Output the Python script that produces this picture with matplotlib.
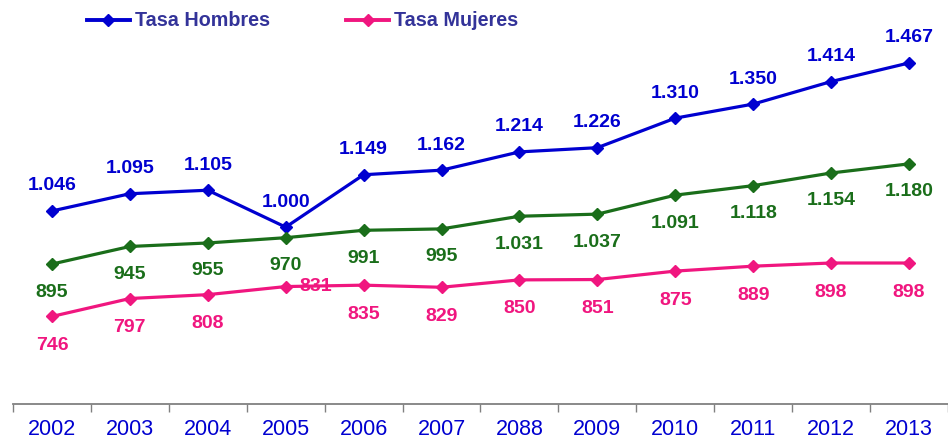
import matplotlib
matplotlib.use("Agg")
import matplotlib.pyplot as plt
from matplotlib.lines import Line2D
import numpy as np

plt.rcParams["font.family"] = ["Liberation Sans", "DejaVu Sans"]

years = ["2002", "2003", "2004", "2005", "2006", "2007", "2088",
         "2009", "2010", "2011", "2012", "2013"]
hombres = [1046, 1095, 1105, 1000, 1149, 1162, 1214, 1226, 1310, 1350, 1414, 1467]
total = [895, 945, 955, 970, 991, 995, 1031, 1037, 1091, 1118, 1154, 1180]
mujeres = [746, 797, 808, 831, 835, 829, 850, 851, 875, 889, 898, 898]

BLUE = "#0000d0"
GREEN = "#1a6e1a"
PINK = "#f0167f"


def fmt(v):
    return f"{v:,}".replace(",", ".")


fig = plt.figure(figsize=(9.48, 4.41), dpi=100)
ax = fig.add_axes([13 / 948, 37 / 441, 935 / 948, 404 / 441])
x = np.arange(len(years))

series = [(hombres, BLUE, 25), (total, GREEN, -28), (mujeres, PINK, -29)]
for vals, col, dy in series:
    ax.plot(x, vals, color=col, lw=2.3, marker="D", ms=6.5, zorder=3)
    for i, v in enumerate(vals):
        dx, ddy = 0, dy
        if vals is mujeres and v == 831:
            dx, ddy = 30, 0
        ax.annotate(fmt(v), (i, v), xytext=(dx, ddy), textcoords="offset pixels",
                    ha="center", va="center", color=col, fontsize=14,
                    fontweight="bold", zorder=4)

ax.set_xlim(-0.5, 11.5)
ax.set_ylim(497, 1646)
ax.set_yticks([])
for s in ["top", "right", "left"]:
    ax.spines[s].set_visible(False)
ax.spines["bottom"].set_color("#808080")
ax.spines["bottom"].set_linewidth(1.3)
ax.set_xticks(x)
ax.set_xticklabels(years, color=BLUE, fontsize=15.5)
ax.tick_params(axis="x", which="major", length=0, pad=11)
ax.set_xticks(np.arange(-0.5, 12, 1), minor=True)
ax.tick_params(axis="x", which="minor", length=6, color="#808080", width=1)

handles = [Line2D([], [], color=BLUE, lw=2.8, marker="D", ms=6.5),
           Line2D([], [], color=PINK, lw=2.8, marker="D", ms=6.5)]
leg = fig.legend(handles, ["Tasa Hombres", "Tasa Mujeres"], loc="center left",
                 bbox_to_anchor=(69 / 948, 1 - 21 / 441), ncol=2, frameon=False,
                 handlelength=2.2, handletextpad=0.25, columnspacing=3.85,
                 prop={"size": 14.2, "weight": "bold"})
for t in leg.get_texts():
    t.set_color("#333399")

fig.savefig("out.png", dpi=100)
